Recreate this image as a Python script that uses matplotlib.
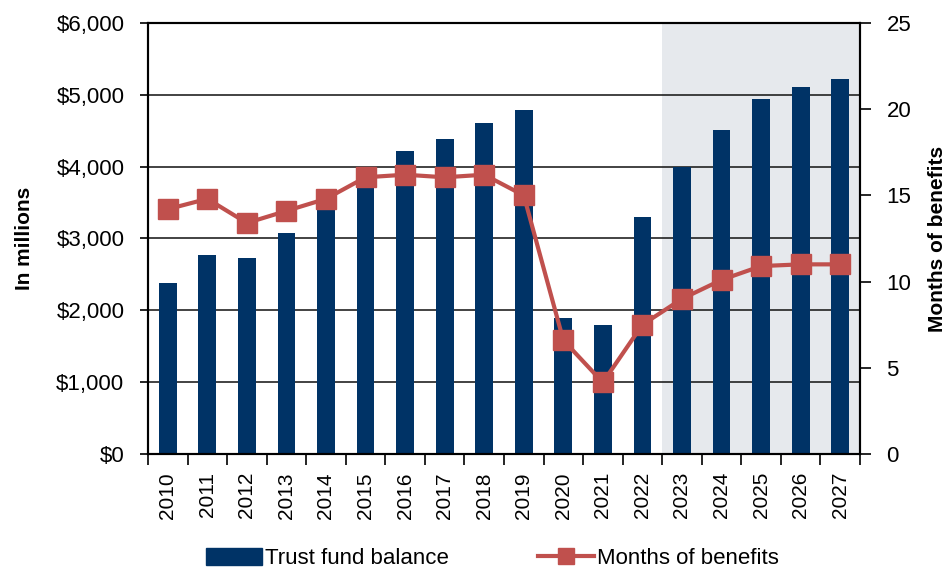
import matplotlib.pyplot as plt
from matplotlib.lines import Line2D
from matplotlib.patches import Patch
from matplotlib.ticker import FuncFormatter

plt.rcParams["font.family"] = ["Liberation Sans Narrow", "Liberation Sans", "DejaVu Sans"]

years = [str(y) for y in range(2010, 2028)]
balance = [2385, 2770, 2724, 3072, 3480, 3900, 4222, 4385, 4612, 4789,
           1898, 1796, 3304, 3991, 4506, 4946, 5105, 5225]
months = [14.2, 14.8, 13.4, 14.1, 14.8, 16.05, 16.2, 16.05, 16.2, 15.0,
          6.6, 4.15, 7.5, 9.0, 10.1, 10.9, 11.0, 11.0]
projected_from = "2023"

BAR_COLOR = "#003366"
LINE_COLOR = "#C0504D"
SHADE_COLOR = "#E6E9ED"
FS = 16

fig = plt.figure(figsize=(9.51, 5.69), dpi=100)
ax = fig.add_axes([0.1556, 0.2021, 0.7487, 0.7575])
x = list(range(len(years)))

start = years.index(projected_from) - 0.5
ax.axvspan(start, len(years) - 0.5, color=SHADE_COLOR, zorder=0, lw=0)
ax.bar(x, balance, width=0.45, color=BAR_COLOR, zorder=2)
ax.set_xlim(-0.5, len(years) - 0.5)
ax.set_ylim(0, 6000)
ax.set_yticks(range(0, 6001, 1000))
ax.yaxis.set_major_formatter(FuncFormatter(lambda v, p: f"${v:,.0f}"))
ax.grid(axis="y", color="#222222", lw=1.2, zorder=1)
ax.set_axisbelow(True)
ax.set_xticks(x)
ax.set_xticklabels(years, rotation=90, fontsize=15)
ax.set_xticks([i - 0.5 for i in range(len(years) + 1)], minor=True)
ax.tick_params(axis="x", which="major", length=0, pad=13)
ax.tick_params(axis="x", which="minor", length=8, width=1.2, direction="out")
ax.tick_params(axis="y", labelsize=FS, length=6, width=1.2, direction="out", pad=11)
ax.set_ylabel("In millions", fontsize=15, fontweight="bold", labelpad=16)
for s in ax.spines.values():
    s.set_linewidth(1.5)

ax2 = ax.twinx()
ax2.plot(x, months, color=LINE_COLOR, lw=3, marker="s", markersize=14, zorder=3)
ax2.set_ylim(0, 25)
ax2.set_yticks(range(0, 26, 5))
ax2.tick_params(axis="y", labelsize=FS, length=8, width=1.2, direction="out", pad=11)
ax2.set_ylabel("Months of benefits", fontsize=15, fontweight="bold", labelpad=12)
for s in ax2.spines.values():
    s.set_linewidth(1.5)

handles = [Patch(color=BAR_COLOR, label="Trust fund balance"),
           Line2D([], [], color=LINE_COLOR, lw=3, marker="s", markersize=12,
                  label="Months of benefits")]
fig.legend(handles=handles, loc="lower center", bbox_to_anchor=(0.518, -0.036), ncol=2,
           frameon=False, fontsize=FS, handlelength=2.5, handleheight=0.8,
           handletextpad=0.15, columnspacing=4.0)

fig.savefig("out.png", dpi=100)
